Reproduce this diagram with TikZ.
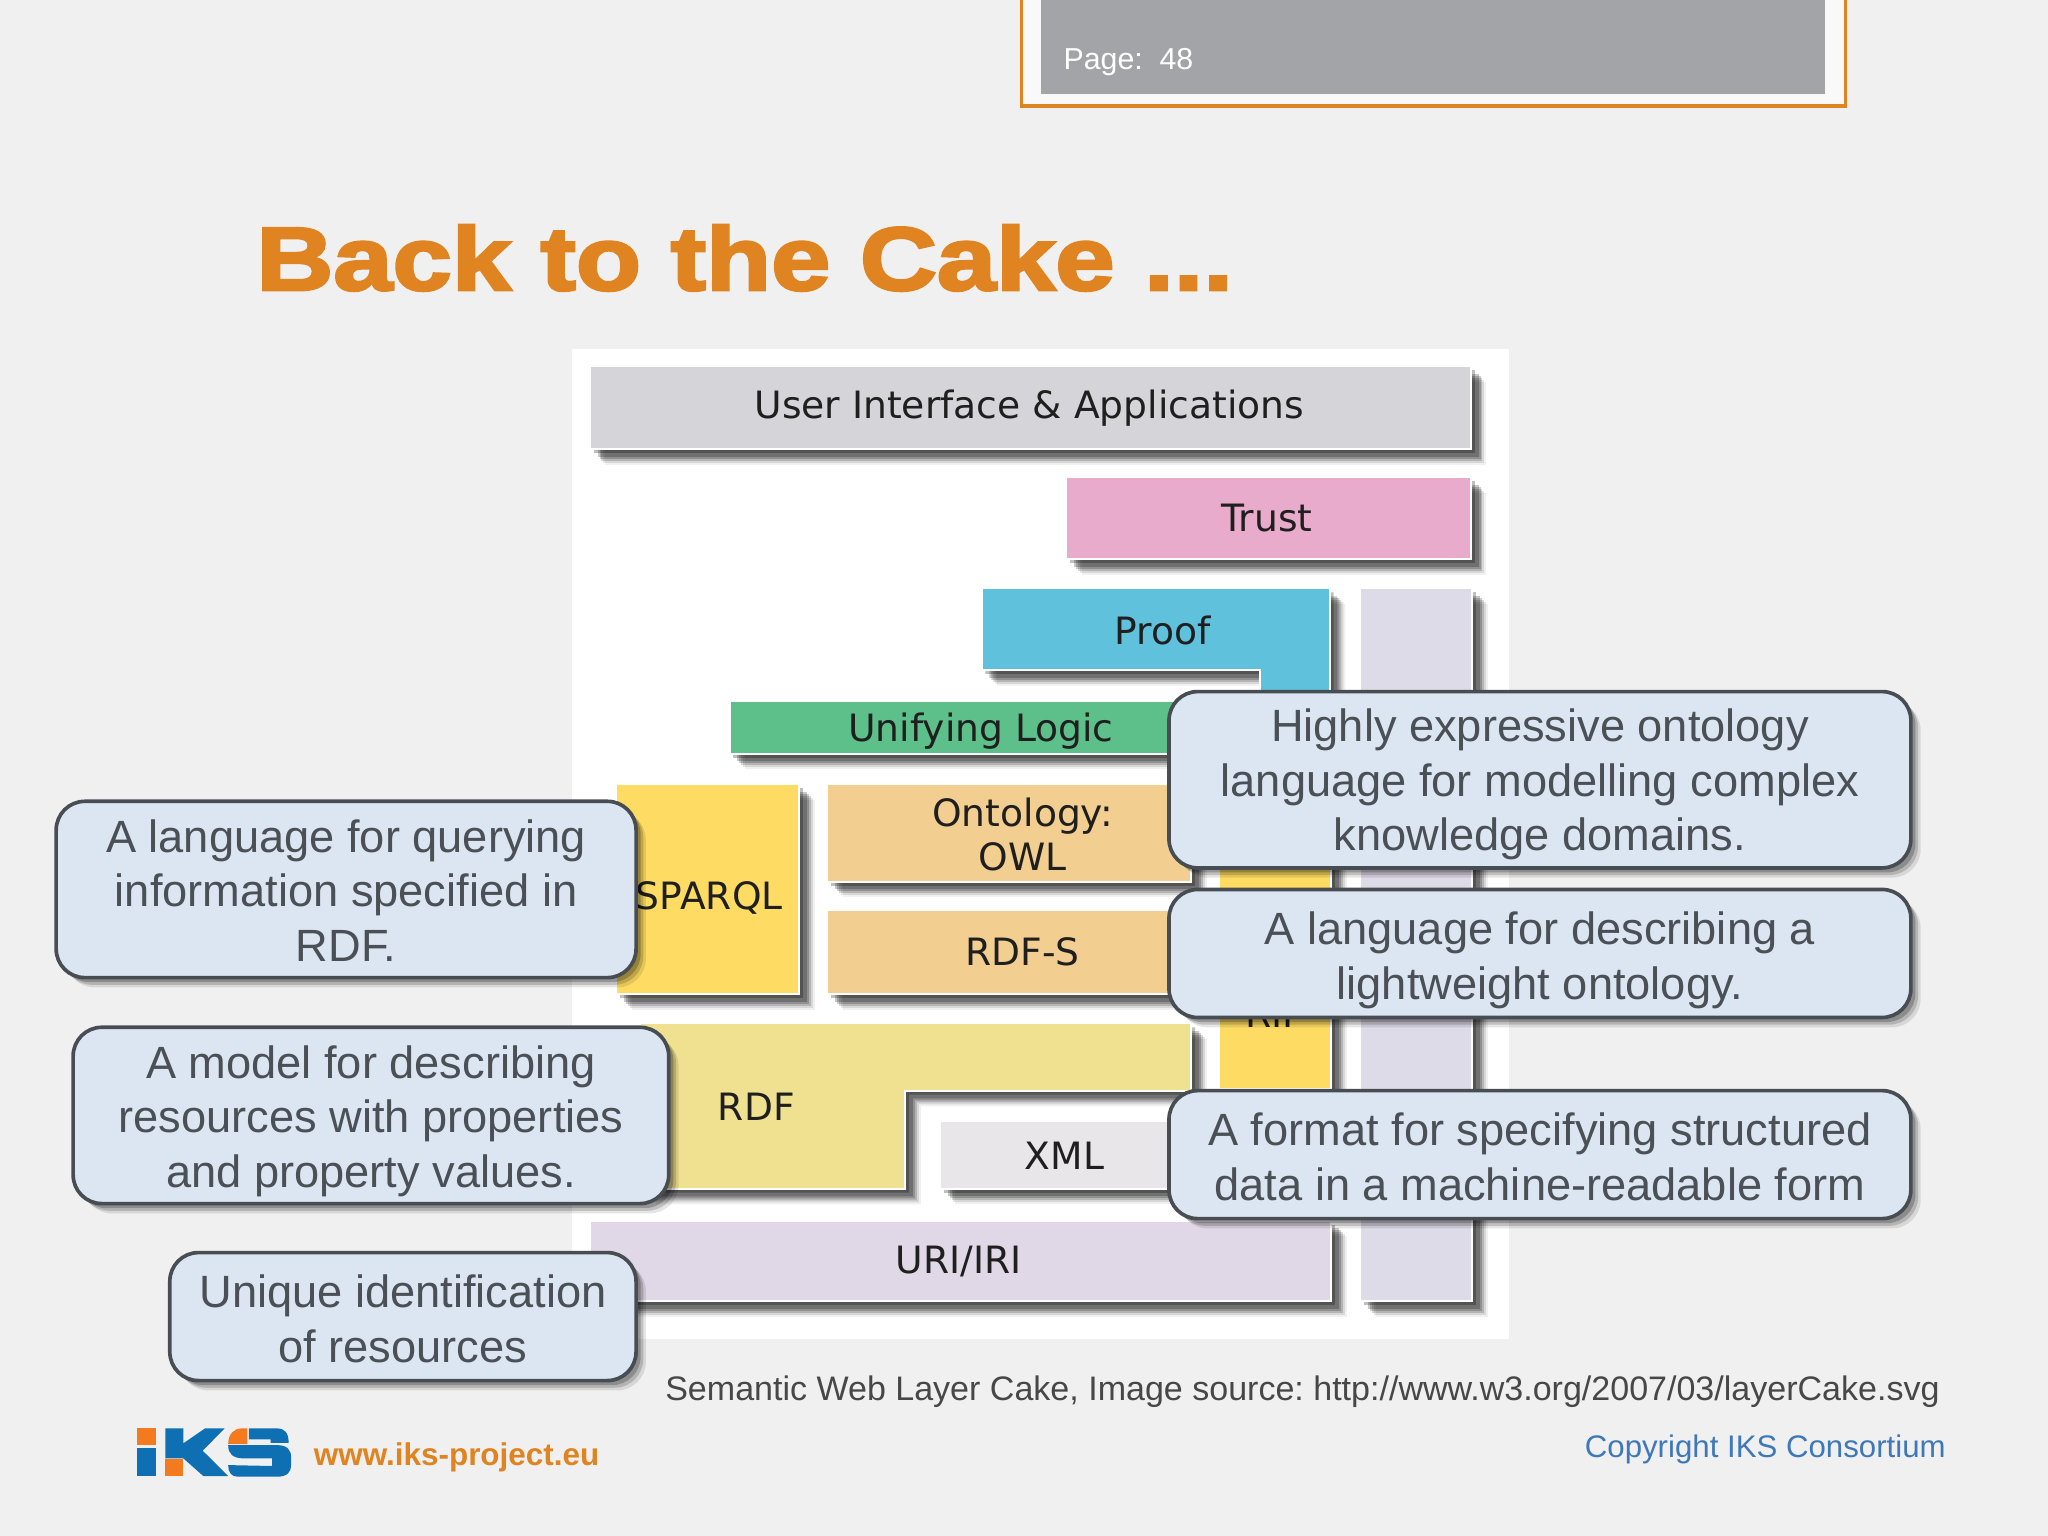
\documentclass[tikz,border=0pt]{standalone}
\usepackage{fontspec}
\setmainfont{Liberation Sans}
\newfontfamily\labelfont{DejaVu Sans}
\newfontfamily\titlefont[FakeBold=3.2,FakeStretch=1.19]{Liberation Sans Bold}
\definecolor{bgc}{HTML}{F0F0F1}
\definecolor{orangec}{HTML}{DF8420}
\definecolor{pagegray}{HTML}{A3A4A7}
\definecolor{calfill}{HTML}{DCE5F2}
\definecolor{calline}{HTML}{484D53}
\definecolor{caltext}{HTML}{4A5055}
\definecolor{uic}{HTML}{D5D4D8}
\definecolor{trustc}{HTML}{E8ABCB}
\definecolor{proofc}{HTML}{5FC1DC}
\definecolor{cryptoc}{HTML}{DEDBE9}
\definecolor{logicc}{HTML}{5DBF8A}
\definecolor{sparqlc}{HTML}{FEDC63}
\definecolor{owlc}{HTML}{F2CF90}
\definecolor{rdfc}{HTML}{EFE18F}
\definecolor{xmlc}{HTML}{E8E6E8}
\definecolor{uric}{HTML}{E0D8E6}
\definecolor{logoblue}{HTML}{0F6FB3}
\definecolor{logoorange}{HTML}{F47A1F}
\definecolor{copyc}{HTML}{3F78B8}
\newcommand{\dn}[1]{\rule{0pt}{#1}}
\tikzset{
  sh/.style n args={2}{preaction={draw=none,fill=black,opacity=#2,transform canvas={xshift=#1*.02cm,yshift=-#1*.02cm}}},
  softshadow/.style={sh={12}{.06},sh={10.5}{.10},sh={9}{.16},sh={7.5}{.20},sh={6}{.22},sh={3}{.25}},
  layer/.style={softshadow,fill=#1,draw=white,line width=.9pt},
  lbl/.style={font=\labelfont\fontsize{16.4}{19}\selectfont,text=black!88,align=center,inner sep=0pt},
  callout/.style n args={2}{rounded corners=.44cm,draw=calline,line width=1.6pt,fill=calfill,
    minimum width=#1*.02cm,minimum height=#2*.02cm,inner sep=0pt,align=center,text=caltext,
    font=\fontsize{19.7}{23.75}\selectfont,
    preaction={fill=black,draw=none,opacity=.10,transform canvas={xshift=.15cm,yshift=-.15cm}},
    preaction={fill=black,draw=none,opacity=.16,transform canvas={xshift=.11cm,yshift=-.11cm}},
    preaction={fill=black,draw=none,opacity=.22,transform canvas={xshift=.07cm,yshift=-.07cm}}},
  logoB/.style={fill=logoblue,draw=none},
  logoO/.style={fill=logoorange,draw=none},
}
\frenchspacing
\begin{document}
\begin{tikzpicture}[x=.02cm,y=-.02cm]
\useasboundingbox (0,0) rectangle (1568,1176);
\fill[bgc] (0,0) rectangle (1568,1176);
% page frame
\fill[white!60!bgc] (782,-2) rectangle (1413,81);
\draw[orangec,line width=1.5pt] (782,-4) -- (782,81) -- (1413,81) -- (1413,-4);
\fill[pagegray] (797,-2) rectangle (1397,72);
\node[anchor=base west,inner sep=0pt,text=white,font=\fontsize{13.2}{16}\selectfont] (page) at (814,53) {Page:\ \ 48};
% title
\node[anchor=base west,inner sep=0pt,text=orangec,font=\titlefont\fontsize{39}{46}\selectfont] (title) at (196,222) {Back to the Cake ...};
% image panel
\fill[white] (438,267) rectangle (1155,1025);
% layers
\path[layer=uic] (451.5,280.5) rectangle (1126,344);
\node[lbl] (ui) at (788,312.5) {User Interface \& Applications};
\path[layer=trustc] (816.5,365.5) rectangle (1126,428);
\node[lbl] (trust) at (970,397) {Trust};
\path[layer=proofc] (751.5,450.5) -- (1018,450.5) -- (1018,600) -- (965,600) -- (965,513) -- (751.5,513) -- cycle;
\node[lbl] (proof) at (890,483) {Proof};
\path[layer=cryptoc] (1041.5,450.5) rectangle (1127,996);
\path[layer=logicc] (558.5,536.5) rectangle (943,577);
\node[lbl] (logic) at (751,559.5) {Unifying Logic};
\path[layer=sparqlc] (471.5,600.5) rectangle (612,761);
\node[lbl] (sparql) at (543,687.5) {SPARQL};
\path[layer=sparqlc] (933.5,640) rectangle (1019,834);
\node[lbl] (rif) at (976,776) {RIF};
\path[layer=owlc] (633.5,600.5) rectangle (912,675);
\node[lbl] (owl) at (783,639) {Ontology:\\OWL};
\path[layer=owlc] (633.5,696.5) rectangle (912,761);
\node[lbl] (rdfs) at (783,729) {RDF-S};
\path[layer=rdfc] (490,783.5) -- (912,783.5) -- (912,835) -- (693,835) -- (693,910) -- (490,910) -- cycle;
\node[lbl] (rdf) at (579,847) {RDF};
\path[layer=xmlc] (719.5,858.5) rectangle (912,910);
\node[lbl] (xml) at (815,885) {XML};
\path[layer=uric] (451.5,934.5) rectangle (1019,996);
\node[lbl] (uri) at (734,966) {URI/IRI};
% callouts
\node[callout={444}{135}] (c1) at (265,681) {\dn{15.2pt}A language for querying\\information specified in\\RDF.};
\node[callout={456}{135}] (c2) at (284,854) {\dn{19.2pt}A model for describing\\resources with properties\\and property values.};
\node[callout={357}{98}] (c3) at (308.5,1008) {\dn{16.3pt}Unique identification\\of resources};
\node[callout={568}{135}] (c4) at (1179,597) {\dn{18.6pt}Highly expressive ontology\\language for modelling complex\\knowledge domains.};
\node[callout={568}{98}] (c5) at (1179,730) {\dn{20.3pt}A language for describing a\\lightweight ontology.};
\node[callout={568}{98}] (c6) at (1179,884) {\dn{16.3pt}A format for specifying structured\\data in a machine-readable form};
% caption
\node[anchor=base west,inner sep=0pt,text=black!72,font=\fontsize{14.83}{18}\selectfont] (cap) at (509,1072) {Semantic Web Layer Cake, Image source: http://www.w3.org/2007/03/layerCake.svg};
\node[anchor=base east,inner sep=0pt,text=copyc,font=\fontsize{13.6}{18}\selectfont] (copy) at (1490,1116) {Copyright IKS Consortium};
\node[anchor=base west,inner sep=0pt,text=orangec,font=\bfseries\fontsize{13.7}{18}\selectfont] (www) at (240,1122) {www.iks-project.eu};
% logo
\fill[logoO] (105,1093.6) rectangle (119.3,1106.4);
\fill[logoB] (105,1108.9) rectangle (119.3,1130.1);
\fill[logoB] (126.7,1093.6) -- (140.4,1093.6) -- (140.4,1105) -- (157,1093.6) -- (172,1093.6) -- (155.2,1110.7) -- (174.7,1130.1) -- (155.7,1130.1) -- (140.4,1116.6) -- (126.7,1116.6) -- cycle;
\fill[logoO] (126.7,1117.3) rectangle (140.4,1130.1);
\fill[logoO] (189.4,1093.6) -- (189.4,1105.6) -- (174.7,1105.6) .. controls (174.7,1098) and (179,1093.6) .. (185,1093.6) -- cycle;
\fill[logoB] (190.5,1093.6) -- (212,1093.6) .. controls (218,1093.6) and (221,1097) .. (221,1104.6) -- (207.1,1104.6) -- (207.1,1102) -- (190.5,1102) -- cycle;
\fill[logoB] (174.7,1106.4) -- (212,1106.4) .. controls (220,1106.4) and (222.9,1110) .. (222.9,1116) -- (222.9,1121.7) .. controls (222.9,1127) and (220,1130.6) .. (212,1130.6) -- (182,1130.6) .. controls (177,1130.6) and (174.7,1127) .. (174.7,1121.7) -- (208.4,1122.4) -- (208.4,1116.6) -- (187.3,1116.6) .. controls (178,1116.6) and (174.7,1113) .. (174.7,1106.4) -- cycle;
\end{tikzpicture}
\end{document}
